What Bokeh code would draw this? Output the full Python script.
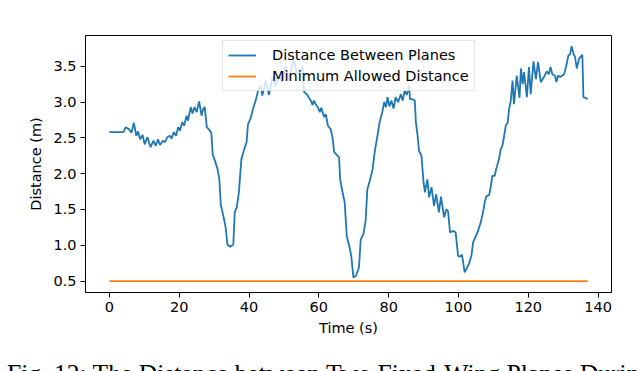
from bokeh.plotting import figure
from bokeh.models import FixedTicker, PrintfTickFormatter, Legend, LegendItem, Range1d, Div
from bokeh.layouts import column
from bokeh.embed import file_html
from bokeh.resources import INLINE

# ---- data ----
time_s = [0, 4, 4.7, 5.6, 6.3, 7.0, 7.7, 8.2, 8.8, 9.5, 10.1, 10.9, 11.8, 12.6, 13.3, 13.9,
          14.5, 15.3, 15.9, 16.6, 17.3, 17.8, 18.5, 19.1, 19.7, 20.2, 20.9, 21.4, 22.1, 22.5,
          23.3, 23.8, 24.4, 25.0, 25.7, 26.4, 26.9, 27.3, 27.9, 28.5, 29.2, 29.6, 30.1, 31.0,
          31.5, 31.9, 32.7, 33.3, 33.8, 34.6, 35.5, 35.9, 36.5, 37.1, 37.8, 38.5, 39.3, 39.7,
          40.5, 41.3, 41.9, 42.6, 43.4, 43.8, 44.8, 45.7, 46.7, 47.6, 48.6, 49.5, 50.5, 51.4,
          52.4, 52.9, 53.6, 54.5, 55.3, 55.8, 56.7, 57.7, 58.2, 58.6, 59.1, 59.8, 60.3, 60.7,
          61.5, 62.0, 62.6, 63.4, 63.9, 64.4, 65.4, 65.8, 66.1, 66.8, 67.4, 68.0, 68.7, 69.3,
          69.9, 70.6, 71.5, 72.0, 72.8, 73.4, 73.9, 74.7, 75.4, 76.0, 76.8, 77.5, 78.2, 78.7,
          79.2, 79.7, 80.2, 80.8, 81.4, 82.0, 82.7, 83.5, 84.0, 84.6, 85.2, 85.9, 86.1, 86.8,
          87.5, 87.8, 88.3, 88.7, 89.4, 90.0, 90.4, 91.1, 91.6, 92.3, 93.0, 93.6, 94.4, 95.0,
          95.9, 96.5, 97.0, 97.6, 98.5, 99.2, 99.9, 100.5, 101.0, 101.8, 102.3, 103.0, 103.7,
          104.2, 105.0, 105.6, 106.4, 107.2, 107.6, 108.1, 108.8, 109.3, 109.7, 110.4, 110.8,
          111.6, 112.1, 112.6, 113.1, 113.6, 114.1, 114.5, 115.0, 115.5, 115.9, 116.7, 117.5,
          117.9, 118.4, 118.8, 119.6, 120.2, 120.7, 121.5, 122.2, 122.8, 123.6, 124.5, 125.3,
          125.9, 126.4, 126.9, 127.6, 128.1, 128.5, 129.1, 130.3, 130.9, 131.5, 132.0, 132.4,
          133.0, 133.4, 133.9, 134.6, 135.5, 135.8, 136.4, 137.0]
distance_m = [2.58, 2.58, 2.65, 2.62, 2.57, 2.71, 2.53, 2.59, 2.48, 2.54, 2.41, 2.51, 2.37, 2.46,
              2.39, 2.48, 2.40, 2.46, 2.44, 2.51, 2.53, 2.49, 2.58, 2.53, 2.65, 2.60, 2.72, 2.67,
              2.81, 2.74, 2.93, 2.84, 2.93, 2.86, 3.01, 2.81, 2.91, 2.93, 2.65, 2.62, 2.57, 2.27,
              2.20, 2.06, 1.92, 1.57, 1.40, 1.25, 1.01, 0.98, 1.01, 1.46, 1.53, 1.74, 2.20, 2.32,
              2.44, 2.69, 2.78, 2.93, 3.02, 3.16, 3.23, 3.09, 3.30, 3.10, 3.35, 3.22, 3.39, 3.28,
              3.49, 3.30, 3.53, 3.58, 3.42, 3.40, 3.49, 3.14, 3.10, 3.02, 2.96, 3.02, 2.97, 2.92,
              2.86, 2.92, 2.79, 2.83, 2.67, 2.62, 2.51, 2.30, 2.25, 2.23, 1.92, 1.74, 1.60, 1.13,
              0.99, 0.85, 0.55, 0.57, 0.69, 1.08, 1.16, 1.34, 1.78, 1.92, 2.06, 2.30, 2.53, 2.74,
              2.86, 3.00, 2.93, 3.07, 2.94, 3.02, 2.91, 3.07, 3.00, 3.11, 3.02, 3.16, 3.10, 3.23,
              3.04, 3.04, 3.02, 2.72, 2.53, 2.32, 2.25, 1.88, 1.74, 1.92, 1.67, 1.81, 1.55, 1.71,
              1.46, 1.68, 1.39, 1.50, 1.48, 1.18, 1.20, 1.18, 0.85, 0.84, 0.87, 0.62, 0.67, 0.74,
              0.85, 1.04, 1.13, 1.20, 1.32, 1.50, 1.62, 1.69, 1.70, 1.83, 1.97, 1.97, 2.06, 2.20,
              2.34, 2.39, 2.53, 2.68, 2.71, 2.90, 3.02, 3.30, 2.97, 3.37, 3.06, 3.47, 3.25, 3.42,
              3.07, 3.49, 3.11, 3.57, 3.32, 3.56, 3.28, 3.35, 3.43, 3.39, 3.49, 3.39, 3.37, 3.28,
              3.37, 3.35, 3.39, 3.51, 3.65, 3.67, 3.78, 3.67, 3.63, 3.47, 3.61, 3.66, 3.07, 3.06,
              3.04]
min_time = [0, 137]
min_distance = [0.5, 0.5]

x_ticks = [0, 20, 40, 60, 80, 100, 120, 140]
y_ticks = [0.5, 1.0, 1.5, 2.0, 2.5, 3.0, 3.5]

series_labels = ["Distance Between Planes", "Minimum Allowed Distance"]
x_label = "Time (s)"
y_label = "Distance (m)"
caption = "Fig. 12: The Distance between Two Fixed-Wing Planes During"

FONT = "DejaVu Sans"
FS = "14.5px"

p = figure(width=640, height=356, output_backend="svg", toolbar_location=None,
           x_range=Range1d(-6.85, 143.85), y_range=Range1d(0.34, 3.93),
           min_border_left=85, min_border_right=29, min_border_top=35, min_border_bottom=64)
p.background_fill_color = "white"
p.border_fill_color = "white"
p.outline_line_color = "black"
p.outline_line_width = 1
p.grid.visible = False

r1 = p.line(time_s, distance_m, line_color="#1f77b4", line_width=1.8)
r2 = p.line(min_time, min_distance, line_color="#ff7f0e", line_width=1.8)

for ax in (p.xaxis[0], p.yaxis[0]):
    ax.major_label_text_font = FONT
    ax.major_label_text_font_size = FS
    ax.major_label_text_color = "black"
    ax.axis_label_text_font = FONT
    ax.axis_label_text_font_size = FS
    ax.axis_label_text_font_style = "normal"
    ax.axis_label_text_color = "black"
    ax.minor_tick_line_color = None
    ax.major_tick_out = 5
    ax.major_tick_in = 0
    ax.major_tick_line_color = "black"
    ax.axis_line_color = "black"

p.xaxis.ticker = FixedTicker(ticks=x_ticks)
p.xaxis.formatter = PrintfTickFormatter(format="%d")
p.yaxis.ticker = FixedTicker(ticks=y_ticks)
p.yaxis.formatter = PrintfTickFormatter(format="%.1f")
p.xaxis.axis_label = x_label
p.yaxis.axis_label = y_label
p.xaxis.major_label_standoff = 4
p.yaxis.major_label_standoff = 4
p.xaxis.axis_label_standoff = 5
p.yaxis.axis_label_standoff = 6

legend = Legend(items=[LegendItem(label=series_labels[0], renderers=[r1]),
                       LegendItem(label=series_labels[1], renderers=[r2])],
                location=(137, 201))
legend.label_text_font = FONT
legend.label_text_font_size = FS
legend.label_text_color = "black"
legend.background_fill_color = "white"
legend.background_fill_alpha = 0.8
legend.border_line_color = "#cccccc"
legend.border_line_width = 1
legend.padding = 5
legend.spacing = 3
legend.margin = 0
legend.glyph_width = 28
legend.glyph_height = 18
legend.label_height = 18
legend.label_standoff = 16
p.add_layout(legend, "center")

cap = Div(text=caption, width=640, height=15,
          styles={"overflow": "hidden", "white-space": "nowrap",
                  "font-family": "'Liberation Serif', serif", "font-size": "25.6px",
                  "line-height": "25px", "color": "black", "padding-left": "2px"})

open("out.html", "w").write(file_html(column(p, cap, spacing=0), INLINE))
